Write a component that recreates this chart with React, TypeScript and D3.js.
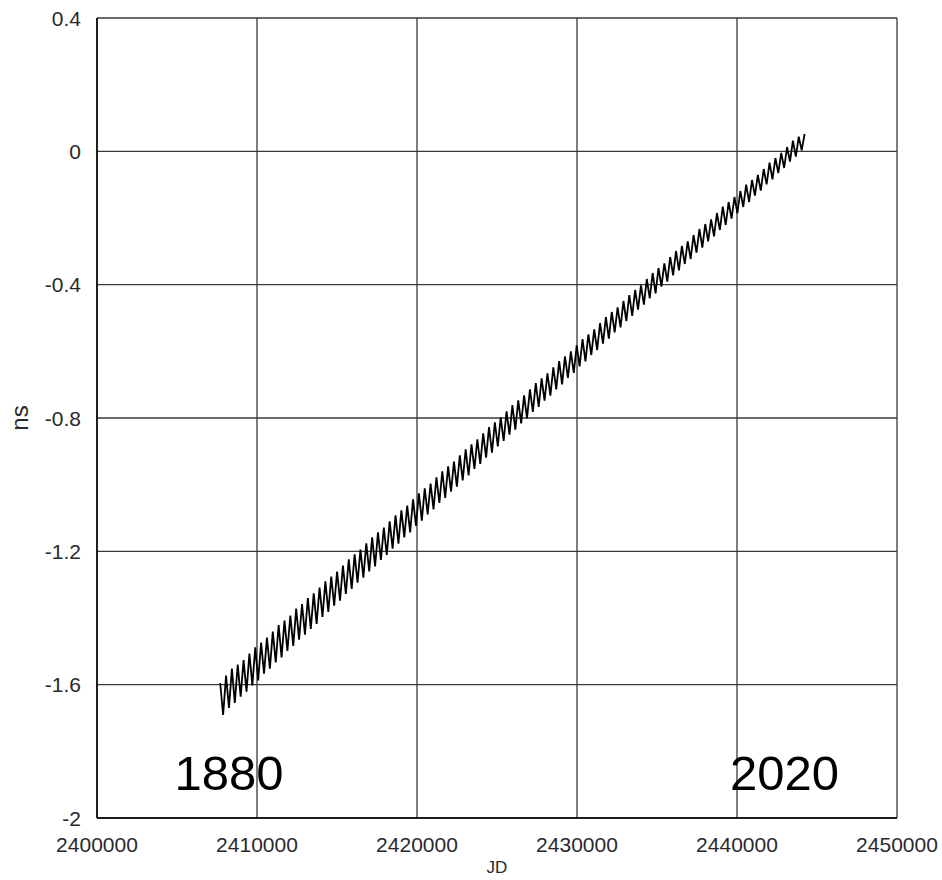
import React from "react";
import * as d3 from "d3";

// annual cycle, starting at the first peak (JD)
const firstJD = 2407700;
const yearDays = 365.25;

// upper turning points of each yearly wiggle, ns
const peaks = [
  -1.595, -1.573, -1.552, -1.540, -1.526, -1.507, -1.488, -1.474, -1.459, -1.441,
  -1.421, -1.408, -1.393, -1.372, -1.358, -1.340, -1.326, -1.309, -1.290, -1.276,
  -1.261, -1.243, -1.224, -1.209, -1.195, -1.176, -1.158, -1.143, -1.129, -1.110,
  -1.092, -1.077, -1.063, -1.044, -1.026, -1.011, -0.997, -0.978, -0.960, -0.945,
  -0.931, -0.912, -0.894, -0.879, -0.864, -0.846, -0.827, -0.813, -0.798, -0.780,
  -0.761, -0.747, -0.732, -0.714, -0.695, -0.681, -0.666, -0.648, -0.629, -0.615,
  -0.600, -0.582, -0.563, -0.549, -0.534, -0.515, -0.497, -0.482, -0.468, -0.449,
  -0.431, -0.416, -0.402, -0.383, -0.365, -0.350, -0.336, -0.317, -0.299, -0.284,
  -0.270, -0.251, -0.233, -0.218, -0.204, -0.185, -0.166, -0.152, -0.137, -0.119,
  -0.100, -0.086, -0.071, -0.053, -0.034, -0.020, -0.005, 0.013, 0.032, 0.044,
  0.052,
];

// lower turning points, half a year after each peak
const troughs = [
  -1.691, -1.670, -1.655, -1.636, -1.621, -1.602, -1.587, -1.567, -1.552, -1.533,
  -1.518, -1.499, -1.484, -1.465, -1.450, -1.433, -1.418, -1.397, -1.382, -1.363,
  -1.348, -1.328, -1.313, -1.294, -1.279, -1.260, -1.245, -1.226, -1.211, -1.192,
  -1.177, -1.158, -1.143, -1.124, -1.108, -1.089, -1.074, -1.055, -1.040, -1.021,
  -1.006, -0.987, -0.972, -0.953, -0.938, -0.919, -0.904, -0.885, -0.869, -0.850,
  -0.835, -0.816, -0.801, -0.782, -0.767, -0.748, -0.733, -0.714, -0.699, -0.680,
  -0.665, -0.645, -0.630, -0.611, -0.596, -0.577, -0.562, -0.543, -0.528, -0.509,
  -0.494, -0.475, -0.460, -0.441, -0.426, -0.406, -0.391, -0.372, -0.357, -0.338,
  -0.323, -0.304, -0.289, -0.270, -0.255, -0.236, -0.221, -0.202, -0.186, -0.167,
  -0.152, -0.133, -0.118, -0.099, -0.084, -0.065, -0.050, -0.031, -0.016, 0.003,
];

const xTicks = [2400000, 2410000, 2420000, 2430000, 2440000, 2450000];
const yTicks = [-2, -1.6, -1.2, -0.8, -0.4, 0, 0.4];
const yearLabels = ["1880", "2020"];
const yearLabelJD = [2408250, 2442970];

const font = "'Liberation Sans', Arial, sans-serif";

export default function App() {
  const width = 942;
  const height = 880;
  const left = 97, right = 897, top = 18, bottom = 818;

  const x = d3.scaleLinear().domain([2400000, 2450000]).range([left, right]);
  const y = d3.scaleLinear().domain([-2, 0.4]).range([bottom, top]);

  const points: [number, number][] = [];
  peaks.forEach((p, i) => {
    points.push([firstJD + i * yearDays, p]);
    if (i < troughs.length) {
      points.push([firstJD + i * yearDays + yearDays / 2, troughs[i]]);
    }
  });

  const line = d3
    .line<[number, number]>()
    .x((d) => x(d[0]))
    .y((d) => y(d[1]));

  const fmtY = (v: number) => String(Math.round(v * 10) / 10);

  return (
    <svg
      width={width}
      height={height}
      style={{ position: "absolute", left: 0, top: 0, background: "#fff" }}
      fontFamily={font}
    >
      {/* grid */}
      {xTicks.map((t) => (
        <line key={"gx" + t} x1={x(t)} x2={x(t)} y1={top} y2={bottom} stroke="#3a3a3a" strokeWidth={1.3} />
      ))}
      {yTicks.map((t) => (
        <line key={"gy" + t} x1={left} x2={right} y1={y(t)} y2={y(t)} stroke="#3a3a3a" strokeWidth={1.3} />
      ))}
      {/* axes */}
      <line x1={left} x2={left} y1={top} y2={bottom} stroke="#000" strokeWidth={1.5} />
      <line x1={left} x2={right} y1={bottom} y2={bottom} stroke="#000" strokeWidth={1.5} />

      {/* tick labels */}
      {yTicks.map((t) => (
        <text key={"ty" + t} x={81} y={y(t)} dy="0.36em" textAnchor="end" fontSize={21} fill="#2a2a2a">
          {fmtY(t)}
        </text>
      ))}
      {xTicks.map((t) => (
        <text key={"tx" + t} x={x(t)} y={852} textAnchor="middle" fontSize={21} fill="#2a2a2a">
          {t}
        </text>
      ))}

      {/* axis titles */}
      <text x={497} y={873} textAnchor="middle" fontSize={17} fill="#2a2a2a">JD</text>
      <text transform={`translate(28,${(top + bottom) / 2}) rotate(-90)`} textAnchor="middle" fontSize={24} fill="#2a2a2a">
        ns
      </text>

      {/* series */}
      <path d={line(points) ?? ""} fill="none" stroke="#000" strokeWidth={1.8} strokeLinejoin="miter" />

      {yearLabels.map((s, i) => (
        <text key={s} x={x(yearLabelJD[i])} y={790} textAnchor="middle" fontSize={49} fill="#000">
          {s}
        </text>
      ))}
    </svg>
  );
}
